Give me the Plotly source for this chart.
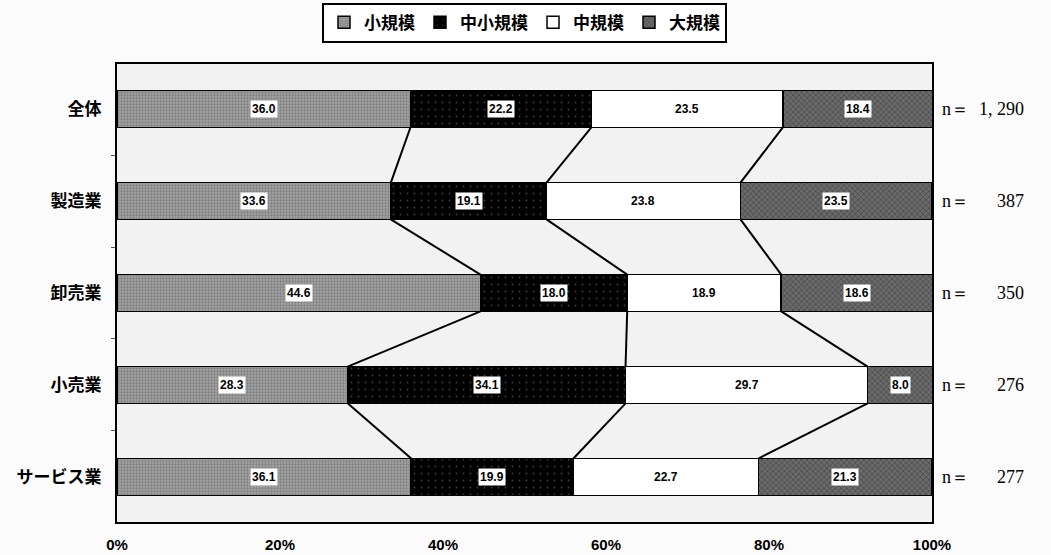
import plotly.graph_objects as go

categories = ["全体", "製造業", "卸売業", "小売業", "サービス業"]
n_labels = ["1, 290", "387", "350", "276", "277"]
series_names = ["小規模", "中小規模", "中規模", "大規模"]
small = [36.0, 33.6, 44.6, 28.3, 36.1]
small_mid = [22.2, 19.1, 18.0, 34.1, 19.9]
mid = [23.5, 23.8, 18.9, 29.7, 22.7]
large = [18.4, 23.5, 18.6, 8.0, 21.3]
x_ticks = [0, 20, 40, 60, 80, 100]

series = [small, small_mid, mid, large]
styles = [
    dict(color="#a3a3a3", pattern=dict(shape=".", fgcolor="#5e5e5e", size=3, solidity=0.45, fillmode="overlay")),
    dict(color="#000000", pattern=dict(shape=".", fgcolor="#7a7a7a", size=7, solidity=0.05, fillmode="overlay")),
    dict(color="#ffffff"),
    dict(color="#6a6a6a", pattern=dict(shape="x", fgcolor="#2a2a2a", size=4, solidity=0.35, fillmode="overlay")),
]

ypos = list(range(len(categories)))
half = 0.2

fig = go.Figure()
for name, vals, st in zip(series_names, series, styles):
    fig.add_trace(go.Bar(
        name=name, y=ypos, x=vals, orientation="h", width=2 * half,
        marker=dict(line=dict(color="black", width=1.5), **st),
        hoverinfo="x+name",
    ))

# cumulative boundaries
cums = []
run = [0.0] * len(categories)
for vals in series:
    run = [r + v for r, v in zip(run, vals)]
    cums.append(list(run))

# connector lines
lx, ly = [], []
for k in range(3):
    c = cums[k]
    for i in range(len(categories) - 1):
        lx += [c[i], c[i + 1], None]
        ly += [i + half, i + 1 - half, None]
fig.add_trace(go.Scatter(x=lx, y=ly, mode="lines", line=dict(color="black", width=2),
                         showlegend=False, hoverinfo="skip"))

# value labels
starts = [[0.0] * len(categories)] + cums[:-1]
for vals, st in zip(series, starts):
    for i, v in enumerate(vals):
        fig.add_annotation(x=st[i] + v / 2, y=i, text=f"<b>{v:.1f}</b>", showarrow=False,
                           font=dict(family="Liberation Sans, Arial", size=12, color="black"),
                           bgcolor="white", borderpad=1)

# n labels
for i, nl in enumerate(n_labels):
    fig.add_annotation(x=1.0, xref="paper", xshift=8, y=i, text="n＝", showarrow=False,
                       xanchor="left", font=dict(family="Liberation Serif, DejaVu Serif", size=18, color="black"))
    fig.add_annotation(x=1.0, xref="paper", xshift=94, y=i, text=nl, showarrow=False,
                       xanchor="right", font=dict(family="Liberation Serif, DejaVu Serif", size=18, color="black"))

fig.update_layout(
    width=1051, height=555,
    barmode="stack",
    margin=dict(l=117, r=119, t=64, b=33),
    paper_bgcolor="#fbfbfb",
    plot_bgcolor="#f2f2f2",
    font=dict(family="Noto Sans CJK JP", color="black"),
    legend=dict(orientation="h", x=0.5, xanchor="center", yref="container", y=0.995, yanchor="top",
                bordercolor="black", borderwidth=2, bgcolor="white",
                font=dict(family="Noto Sans CJK JP", size=17, weight="bold"),
                itemwidth=30, traceorder="normal"),
    xaxis=dict(range=[0, 100], tickvals=x_ticks, ticktext=[f"<b>{t}%</b>" for t in x_ticks],
               showgrid=False, zeroline=False, showline=True, linecolor="black", linewidth=2, mirror=True,
               ticks="", ticklabelstandoff=8, automargin=False,
               tickfont=dict(family="Liberation Sans, Arial", size=15)),
    yaxis=dict(range=[len(categories) - 0.51, -0.49], tickvals=ypos,
               ticktext=[f"<b>{c}</b>" for c in categories],
               showgrid=False, zeroline=False, showline=True, linecolor="black", linewidth=2, mirror=True,
               ticks="", ticklabelstandoff=10, automargin=False,
               tickfont=dict(family="Noto Sans CJK JP", size=17),
               minor=dict(tick0=0.5, dtick=1, ticks="outside", ticklen=4, tickcolor="#555")),
)

fig.write_html("out.html", config={"displayModeBar": False},
               post_script="document.body.style.margin='0';document.body.style.padding='0';")
